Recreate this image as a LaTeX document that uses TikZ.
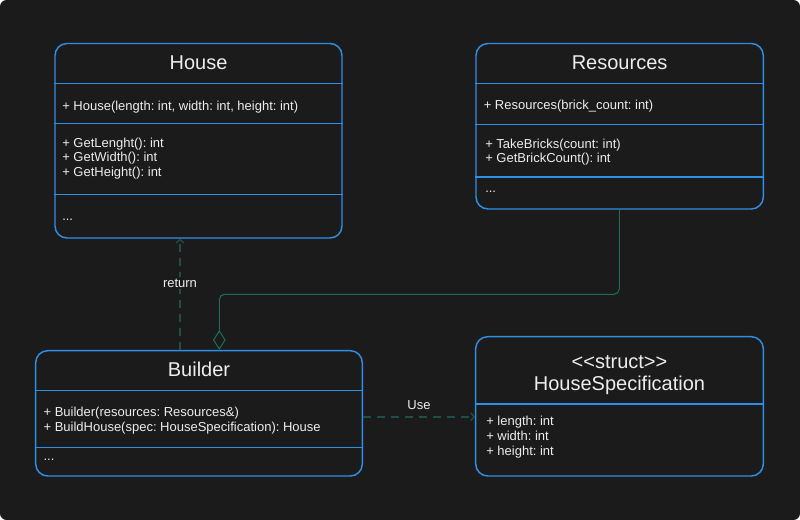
\documentclass[tikz,border=0pt]{standalone}
\usepackage{fontspec}
\setmainfont{Liberation Sans}
\usetikzlibrary{arrows.meta,fit}
\definecolor{bg}{HTML}{1B1B1B}
\definecolor{umlblue}{HTML}{2E8FE6}
\definecolor{depc}{HTML}{1F4E45}
\definecolor{aggc}{HTML}{1E6A5C}
\definecolor{txt}{HTML}{EDEDED}
\frenchspacing
\tikzset{
  umlbox/.style={draw=umlblue, line width=1.1pt, rounded corners=9pt, inner sep=0pt},
  sepline/.style={draw=umlblue, line width=1.1pt},
  ttl/.style={text=txt, font=\fontsize{15}{17}\selectfont, inner sep=0pt, anchor=base},
  mem/.style={text=txt, font=\fontsize{9.75}{11}\selectfont, inner sep=0pt, anchor=base west},
  dep/.style={draw=depc, line width=1.3pt, dash pattern=on 6pt off 4.5pt, -{Straight Barb[length=2.5pt,width=6pt,line width=1pt]}},
  agg/.style={draw=aggc, line width=0.8pt, rounded corners=4pt, -{Diamond[open,length=15pt,width=9.5pt,line width=0.8pt]}},
  lbl/.style={text=txt, font=\fontsize{9.75}{11}\selectfont, inner sep=1.5pt, fill=bg}
}
\begin{document}
\begin{tikzpicture}[x=0.75pt,y=-0.75pt]
\useasboundingbox (0,0) rectangle (800,520);
\fill[white] (0,0) rectangle (800,520);
\fill[bg, rounded corners=5pt] (0,0) rectangle (800,520);

% House
\node[umlbox, fit={(55,43.5) (342,238)}] (house) {};
\draw[sepline] (house.west |- 0,83.3) -- (house.east |- 0,83.3);
\draw[sepline] (house.west |- 0,123.3) -- (house.east |- 0,123.3);
\draw[sepline] (house.west |- 0,194.3) -- (house.east |- 0,194.3);
\node[ttl] (houset) at (198.5,70) {House};
\node[mem] (housec) at (62,110.7) {+ House(length: int, width: int, height: int)};
\node[mem] (housem1) at (62,147.3) {+ GetLenght(): int};
\node[mem] (housem2) at (62,162) {+ GetWidth(): int};
\node[mem] (housem3) at (62,176.7) {+ GetHeight(): int};
\node[mem] (housed) at (62,220.7) {...};

% Resources
\node[umlbox, fit={(476,43.5) (763.3,209)}] (res) {};
\draw[sepline] (res.west |- 0,83.3) -- (res.east |- 0,83.3);
\draw[sepline] (res.west |- 0,124.3) -- (res.east |- 0,124.3);
\draw[sepline] (res.west |- 0,177) -- (res.east |- 0,177);
\node[ttl] (rest) at (619.6,70) {Resources};
\node[mem] (resc) at (483.5,110) {+ Resources(brick\_count: int)};
\node[mem] (resm1) at (485,148.3) {+ TakeBricks(count: int)};
\node[mem] (resm2) at (485,162.7) {+ GetBrickCount(): int};
\node[mem] (resd) at (485,192.3) {...};

% Builder
\node[umlbox, fit={(35.7,350.7) (362.3,476)}] (builder) {};
\draw[sepline] (builder.west |- 0,390.3) -- (builder.east |- 0,390.3);
\draw[sepline] (builder.west |- 0,447.3) -- (builder.east |- 0,447.3);
\node[ttl] (buildert) at (199,376.7) {Builder};
\node[mem] (builderm1) at (43.3,416.7) {+ Builder(resources: Resources\&)};
\node[mem] (builderm2) at (43.3,431.7) {+ BuildHouse(spec: HouseSpecification): House};
\node[mem] (builderd) at (43.3,460) {...};

% HouseSpecification
\node[umlbox, fit={(475.7,336.7) (763.3,476)}] (spec) {};
\draw[sepline] (spec.west |- 0,404) -- (spec.east |- 0,404);
\node[ttl] (spect1) at (619.5,368.3) {<{}<struct>{}>};
\node[ttl] (spect2) at (619.5,391) {HouseSpecification};
\node[mem] (specm1) at (486,426) {+ length: int};
\node[mem] (specm2) at (486,440.7) {+ width: int};
\node[mem] (specm3) at (486,455.7) {+ height: int};

% connectors
\coordinate (rx) at (180,0);
\draw[dep] (builder.north -| rx) -- node[lbl, pos=0.6] (retl) {return} (house.south -| rx);

\coordinate (ua) at (619.3,294.3);
\coordinate (ub) at (219.3,294.3);
\draw[agg] (res.south -| ua) -- (ua) -- (ub) -- (builder.north -| ub);

\coordinate (uy) at (0,416.7);
\draw[dep] (builder.east |- uy) -- node[lbl, fill=none, above=3pt] (usel) {Use} (spec.west |- uy);
\end{tikzpicture}
\end{document}
